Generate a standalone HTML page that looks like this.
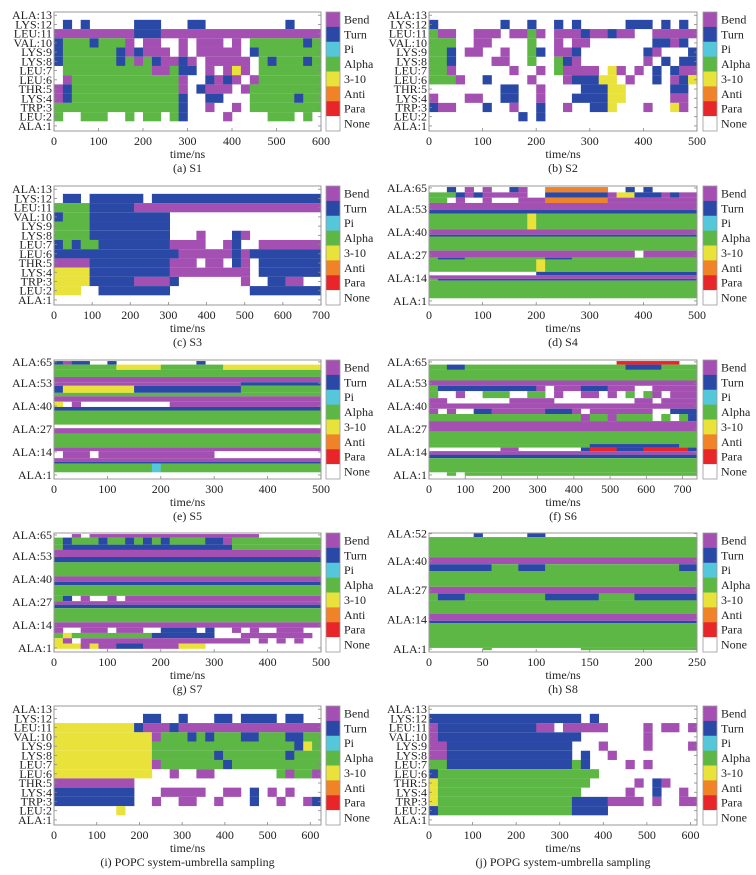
<!DOCTYPE html>
<html><head><meta charset="utf-8"><style>
html,body{margin:0;padding:0;background:#fff;}
svg{display:block;font-family:"Liberation Serif",serif;}
</style></head><body>
<svg id="fig" width="756" height="875" viewBox="0 0 756 875"></svg>
<script>
const stateKeys = ['b','t','p','a','y','o','r','.'];
const stateNames = ['Bend','Turn','Pi','Alpha','3-10','Anti','Para','None'];
const stateColors = ['#a350b2','#2a49a6','#55c7da','#5cb744','#e8e23a','#f08228','#e8262a','#ffffff'];

const resLabels13 = ['ALA:1','LEU:2','TRP:3','LYS:4','THR:5','LEU:6','LEU:7','LYS:8','LYS:9','VAL:10','LEU:11','LYS:12','ALA:13'];
const ticks65 = [1,14,27,40,53,65];
const ticks52 = [1,14,27,40,52];

const rowsA = [
[13,13,".............................."],
[12,12,".t.t.....ttt...tt.........t..."],
[11,11,"bbbbbbbbbtttbbbbbbbbbbbbbbbbbb"],
[10,10,"taaataaab.bb..b.bbb.b.aaaaaata"],
[9,9,"taaaaaatbtbbb.b.bbbbb.taaaaaaa"],
[8,8,"taaaaaatabatbbtb.bbbbb.ataaata"],
[7,7,".aaaaaaaaaabbatt.b.byb.aaaaaaa"],
[6,6,".baaaaaaaaaaaab..tbtb.baaaaaaa"],
[5,5,"btaaaaaaaaaaaab.tbbb.baaaaaaaa"],
[4,4,"btaaaaaaaaaaaat..tt...aaaaataa"],
[3,3,"aaaaaaaaaaaaaat..b..b.aaaaaaaa"],
[2,2,"a..aaa..a.aa.at....b....aaa.a."],
[1,1,".............................."]];
const rowsB = [
[13,13,".............................."],
[12,12,"t.......t..t..t.t.....ttt.t.t."],
[11,11,"abb..bbb.bbab.bbbtbbtbb..bbbbb"],
[10,10,"aaa..bb....a..b.bb.......ttbt."],
[9,9,"aat.bb..b..at.bbt.......tb...t"],
[8,8,"aat....bb..a..atb.......b.t.tt"],
[7,7,"aab......b..b.abbbb.yb.b.t.tbb"],
[6,6,"aaab..t....b...btttyy.b..t.bty"],
[5,5,"........tt..b....tttyy.....tt."],
[4,4,"b...bb..tt..b...ttttyy.....bb."],
[3,3,"tbb...t..b..t..b..tty...b..yb."],
[2,2,"..........t.t................."],
[1,1,".............................."]];
const rowsC = [
[13,13,".............................."],
[12,12,".tt.tttttt.ttttttttttttttttttt"],
[11,11,"aaaatttttbbbbbbbbbbbbbbbbbbbbb"],
[10,10,"taaattttttttt................."],
[9,9,"aaaattttttttt................."],
[8,8,"aaaattttttttt...b...tb........"],
[7,7,"tataattttttttbbbb..bt..bbbbbbb"],
[6,6,"ttttttttttttttbbbbbbtbtttttttt"],
[5,5,"bbbbtttttttttbbb.bb.tb.ttttttt"],
[4,4,"yyyytttttttttbbbbbbbbb.ttttttt"],
[3,3,"yyyytttttbbbbt.......b..ttbb.."],
[2,2,"yyy..tttttttt.........tttttttt"],
[1,1,".............................."]];
const rowsD = [
[65,63,"..t.b.b..tb..ooooooo..t.t....."],
[62,60,"aaatbtbbbbb..tttttttbyytttbtbb"],
[59,57,"aa.b..b...bbbooooooobbbbbbbbbb"],
[56,53,"bbbbbbbbbbbbbbbbbbbbbbbbbbbbbb"],
[52,51,"tttttttttttttttttttttttttttttt"],
[50,42,"aaaaaaaaaaayaaaaaaaaaaaaaaaaaa"],
[41,39,"bbbbbbbbbbbbbbbbbbbbbbbbbbbbbb"],
[38,38,"tttttttttttttttttttttttttttttt"],
[37,30,"aaaaaaaaaaaaaaaaaaaaaaaaaaaaaa"],
[29,26,"bbbbbbbbbbbbbbbbbbbbbbb.bbbbbb"],
[25,25,"atttaaaaaaaaatttaaaaaaaaaaaaaa"],
[24,18,"aaaaaaaaaaaayaaaaaaaaaaaaaaaaa"],
[17,16,"............tttttttttttttttttt"],
[15,14,"bbbbbbbbbbbbbbbbbbbbbbbbbbbbbb"],
[13,13,"attttttttttttttttttttttttttttt"],
[12,3,"aaaaaaaaaaaaaaaaaaaaaaaaaaaaaa"],
[2,1,".............................."]];
const rowsE = [
[65,64,"tbtt..t.........t............."],
[63,61,"aaaaaaayyyyyaaaaaaayyyyyyyyyyy"],
[60,57,"aaaaaaaaaaaaaaaaaaaaaaaaaaaaaa"],
[56,54,"bbbbbbbbbbbbbbbbbbbbbbbbbbbbbb"],
[53,52,"bbbbbbbbbbbbbbbbbbbbbttttttttt"],
[51,48,"tyyyyyyyyttttttttttttaaaaaaaaa"],
[47,46,"aaaaaaaaaaaaaaaaaaaaaaaaaaaaaa"],
[45,43,"bbbbbbbbbbbbbbbbbbbbbbbbbbbbbb"],
[42,40,"y.b..........bbbbbbbbbbbbbbbbb"],
[39,38,"tttttttttttttttttttttttttttttt"],
[37,30,"aaaaaaaaaaaaaaaaaaaaaaaaaaaaaa"],
[29,28,".............................."],
[27,25,"bbbbbbbbbbbbbbbbbbbbbbbbbbbbbb"],
[24,17,"aaaaaaaaaaaaaaaaaaaaaaaaaaaaaa"],
[16,15,"bbbbbbbbbbbbbbbbbbbbbbbbbbbbbb"],
[14,11,".bbb.bbbbbbbbbbbbb............"],
[10,9,"bbbbbbbbbbbbbbbbbbbbbbbbbbbbbb"],
[8,8,"tttttttttttttttttttttttttttttt"],
[7,3,"aaaaaaaaaaapaaaaaaaaaaaaaaaaaa"],
[2,1,".............................."]];
const rowsF = [
[65,64,".....................rrrrrrr.."],
[63,61,"aattaaaaaaaaaaaaaaaaaattttaaaa"],
[60,55,"aaaaaaaaaaaaaaaaaaaaaaaaaaaaaa"],
[54,52,"bbbbbbbbbbbbbbbbbbbbbbbbbbbbbb"],
[51,49,"atttttttttttb.bbbtttbbb..bbbbb"],
[48,45,"a..b..aaa..aa.b..bb.b.a.ab.bbb"],
[44,42,"bb.......bbbbb.........bb.bbbb"],
[41,39,"bbbbbbbbbbbbbbbbbbbbbbbbbbbbbb"],
[38,36,"b.b..ttbbbbbbtttb.bbbbbbb..ttt"],
[35,32,"aaaaaaaaaaaaaaaaabaabaaaa.a.at"],
[31,26,"bbbbbbbbbbbbbbbbbbbbbbbbbbbbbb"],
[25,19,"aaaaaaaaaaaaaaaaaaaaaaaaaaaaaa"],
[18,17,"aaaaaaaaaaaaaaaaaattttttttttaa"],
[16,15,"........bb.......trrrtttrrrrrt"],
[14,13,"bbbbbbbbbbbbbbbbbbbbbbbbbbbbbb"],
[12,11,"tttttttttttttttttttttttttttttt"],
[10,3,"aaaaaaaaaaaaaaaaaaaaaaaaaaaaaa"],
[2,1,"..a.aaaaaaaaaaaaaaaaaaaaaaaaaa"]];
const rowsG = [
[65,64,"..b.bbbbbbbbbbbbbbbbbbb......."],
[63,60,"ataaataatatataaaattbaaaaaaaaaa"],
[59,57,"atttttttttttttttttttaaaaaaaaaa"],
[56,53,"bbbbbbbbbbbbbbbbbbbbbbbbbbbbbb"],
[52,50,"tttttttttttttttttttttttttttttt"],
[49,42,"aaaaaaaaaaaaaaaaaaaaaaaaaaaaaa"],
[41,39,"bbbbbbbbbbbbbbbbbbbbbbbbbbbbbb"],
[38,37,"tttttttttttttttttttttttttttttt"],
[36,31,"aaaaaaaaaaaaaaaaaaaaaaaaaaaaaa"],
[30,28,"at.b..b.bbbbbbbbbbbbbbbbbbbbbb"],
[27,26,"bbbbbbbbbbbbbbbbbbbbbbbbbbbbbb"],
[25,24,"tttttttttttttttttttttttttttttt"],
[23,16,"aaaaaaaaaaaaaaaaaaaaaaaaaaaaaa"],
[15,13,"bbbbbbbbbbbbbbbbbbbbbbbbbbbbbb"],
[12,10,"b..bbb.bbb..tttt.t..b.b..bbb.."],
[9,7,"ayaaaaaaaaattttttt...bbbbbbbb."],
[6,4,"yb.bbbbbbbbbbbbbbbbbbb.b.b.b.."],
[3,1,"yyybybbtttbbbbyyy............."]];
const rowsH = [
[52,51,".....t.....tt................."],
[50,42,"aaaaaaaaaaaaaaaaaaaaaaaaaaaaaa"],
[41,39,"bbbbbbbbbbbbbbbbbbbbbbbbbbbbbb"],
[38,36,"tttttttaaatttaaaaaaaaaaaaaaatt"],
[35,29,"aaaaaaaaaaaaaaaaaaaaaaaaaaaaaa"],
[28,26,"bbbbbbbbbbbbbbbbbbbbbbbbbbbbbb"],
[25,23,"atttaaaaaaaaattttttaaaattttttt"],
[22,17,"aaaaaaaaaaaaaaaaaaaaaaaaaaaaaa"],
[16,14,"bbbbbbbbbbbbbbbbbbbbbbbbbbbbbb"],
[13,13,"tttttttttttttttttttttttttttttt"],
[12,2,"aaaaaaaaaaaaaaaaaaaaaaaaaaaaaa"],
[1,1,"......a..........aaaaaaaaaaaaa"]];
const rowsI = [
[13,13,".............................."],
[12,12,"..........tt..t...tt.tttt.tt.."],
[11,11,"yyyyyyyyytbbbtbbbbbbbbbbbbbbbb"],
[10,10,"yyyyyyyyyyybaaatataaattaaattaa"],
[9,9,"yyyyyyyyyyyaaaaaaaaaaaaaaaatya"],
[8,8,"yyyyyyyyyyyaaaaaaataaaaaaataaa"],
[7,7,"yyyyyyyyyyybaaaaaaataaaaaaaaaa"],
[6,6,"yyyyyyyyyyy..b..bb.......abaab"],
[5,5,"bbbbbbbbb....................."],
[4,4,"ttttttttt...bbbbb..bb.t.b.b..."],
[3,3,"ttttttttt..b..bb..b...t..b..bt"],
[2,2,".......y......................"],
[1,1,".............................."]];
const rowsJ = [
[13,13,".............................."],
[12,12,"ttttttttttttttttt.t..........."],
[11,11,"btttttttttttbb.bbbbb....b.bb.b"],
[10,10,"btttttttttttttttt.......b....."],
[9,9,"bbtttttttttttttt...b....b....b"],
[8,8,"bbtttttttttttttt.t..b........."],
[7,7,"aattttttttttttttat....b.b....."],
[6,6,"taaaaaaaaaaaaaaaaaa..........."],
[5,5,"yaaaaaaaaaaaaaaaaa.....b.tb..."],
[4,4,"yaaaaaaaaaaaaaaaa.....b..t..b."],
[3,3,"yaaaaaaaaaaaaaaattttbbbb.b..bb"],
[2,2,"taaaaaaaaaaaaaaatttt.........."],
[1,1,".............................."]];

const timeMaxes = [600,500,700,500,500,740,500,250,625,615];
const xTickSteps = [100,100,100,100,100,100,100,50,100,100];
const xTickMaxes = [600,500,700,500,500,700,500,250,600,600];
const captions = ['(a) S1','(b) S2','(c) S3','(d) S4','(e) S5','(f) S6','(g) S7','(h) S8','(i) POPC system-umbrella sampling','(j) POPG system-umbrella sampling'];
const panelRows = [rowsA,rowsB,rowsC,rowsD,rowsE,rowsF,rowsG,rowsH,rowsI,rowsJ];
const panelKinds = ['r13','r13','r13','r65','r65','r65','r65','r52','r13','r13'];

const NS = 'http://www.w3.org/2000/svg';
const svg = document.getElementById('fig');
function mk(tag, attrs, parent){
  const e = document.createElementNS(NS, tag);
  for (const k in attrs) e.setAttribute(k, attrs[k]);
  (parent||svg).appendChild(e);
  return e;
}
const rowTops = [12,186,360,533,706];
const plotH = 119;
const colX = [[54,321],[429,697]];
const domains = {r13:[0.45,13.35], r65:[-1.3,66.1], r52:[-0.3,52.3]};

for (let p = 0; p < 10; p++) {
  const col = p % 2, row = Math.floor(p/2);
  const x0 = colX[col][0], x1 = colX[col][1];
  const y0 = rowTops[row], y1 = y0 + plotH;
  const dom = domains[panelKinds[p]];
  const tMax = timeMaxes[p];
  const xs = t => x0 + (t / tMax) * (x1 - x0);
  const ys = v => y1 - (v - dom[0]) / (dom[1] - dom[0]) * (y1 - y0);
  const g = mk('g', {});
  
  
  mk('rect', {x:x0, y:y0, width:x1-x0, height:y1-y0, fill:'#fff'}, g);
  const cells = mk('g', {}, g);
  
  
  for (const band of panelRows[p]) {
    const hi = band[0], lo = band[1], s = band[2];
    const ya = Math.max(y0, ys(hi + 0.5)), yb = Math.min(y1, ys(lo - 0.5));
    const n = s.length;
    let i = 0;
    while (i < n) {
      let j = i;
      while (j < n && s[j] === s[i]) j++;
      const k = stateKeys.indexOf(s[i]);
      if (k >= 0 && k < 7) {
        const r = mk('rect', {x:xs(i/n*tMax), y:ya, width:xs(j/n*tMax)-xs(i/n*tMax)+0.3, height:yb-ya, fill:stateColors[k]}, cells);
        
        
      }
      i = j;
    }
  }
  mk('rect', {x:x0, y:y0, width:x1-x0, height:y1-y0, fill:'none', stroke:'#9a9a9a', 'stroke-width':1}, g);
  // y ticks
  let yt = [];
  if (panelKinds[p] === 'r13') yt = resLabels13.map((l,i)=>[i+1,l]);
  else if (panelKinds[p] === 'r65') yt = ticks65.map(v=>[v,'ALA:'+v]);
  else yt = ticks52.map(v=>[v,'ALA:'+v]);
  for (const [v,l] of yt) {
    const y = ys(v);
    mk('line', {x1:x0, x2:x0+3, y1:y, y2:y, stroke:'#888', 'stroke-width':0.8}, g);
    mk('line', {x1:x1-3, x2:x1, y1:y, y2:y, stroke:'#888', 'stroke-width':0.8}, g);
    const t = mk('text', {x:x0-2, y:y+4, 'font-size':12, 'text-anchor':'end', fill:'#222'}, g);
    t.textContent = l;
    
    
  }
  for (let v = 0; v <= xTickMaxes[p]; v += xTickSteps[p]) {
    const x = xs(v);
    mk('line', {x1:x, x2:x, y1:y1, y2:y1-3, stroke:'#888', 'stroke-width':0.8}, g);
    const t = mk('text', {x:x, y:y1+14, 'font-size':12, 'text-anchor':'middle', fill:'#222'}, g);
    t.textContent = v;
    
    
  }
  const xt = mk('text', {x:(x0+x1)/2, y:y1+27, 'font-size':12, 'text-anchor':'middle', fill:'#222'}, g);
  xt.textContent = 'time/ns';
  
  
  const cp = mk('text', {x:(x0+x1)/2, y:y1+41, 'font-size':12, 'text-anchor':'middle', fill:'#222'}, g);
  cp.textContent = captions[p];
  
  
  // legend colorbar
  const lx = col === 0 ? 326 : 703;
  const lg = mk('g', {}, g);
  
  
  const ch = (y1 - y0) / 8;
  for (let k = 0; k < 8; k++) {
    const r = mk('rect', {x:lx, y:y0 + k*ch, width:14, height:ch+0.3, fill:stateColors[k]}, lg);
    
    
    const t = mk('text', {x:lx+18, y:y0 + k*ch + ch/2 + 4, 'font-size':12, fill:'#222'}, lg);
    t.textContent = stateNames[k];
    
    
  }
  mk('rect', {x:lx, y:y0, width:14, height:y1-y0, fill:'none', stroke:'#9a9a9a', 'stroke-width':0.8}, lg);
}
</script>
</body></html>
